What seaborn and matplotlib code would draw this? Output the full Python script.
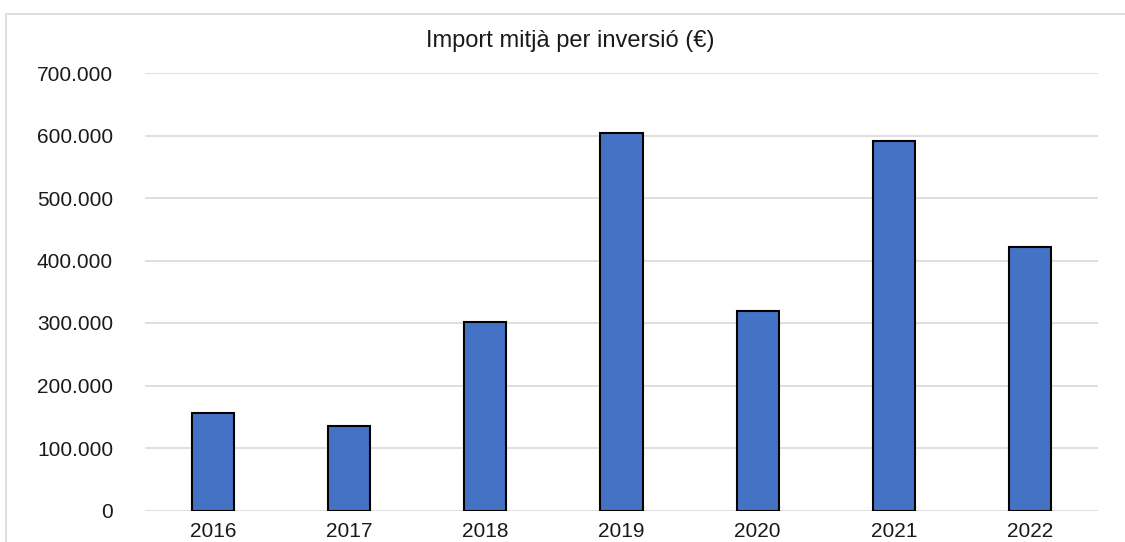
import matplotlib
matplotlib.use("Agg")
import matplotlib.pyplot as plt
import seaborn as sns
import pandas as pd
from matplotlib.patches import Rectangle
from matplotlib.ticker import FuncFormatter

years = ["2016", "2017", "2018", "2019", "2020", "2021", "2022"]
values = [156500, 136000, 301000, 604000, 319500, 590500, 421000]
title = "Import mitjà per inversió (€)"
yticks = [0, 100000, 200000, 300000, 400000, 500000, 600000, 700000]

sns.set_theme(style="white")
plt.rcParams['font.family'] = ['Liberation Sans', 'DejaVu Sans']

df = pd.DataFrame({"year": years, "value": values})

W, H = 1125, 542
fig = plt.figure(figsize=(W / 100, H / 100), dpi=100)
fig.patch.set_facecolor("white")

# chart frame
fig.patches.append(Rectangle((6 / W, -0.1), 1.2, 1 - 14 / H + 0.1,
                             transform=fig.transFigure, fill=False,
                             edgecolor="#d9d9d9", linewidth=1.2, zorder=0))

left, right = 145 / W, 1098 / W
bottom, top = 1 - 510.5 / H, 1 - 73 / H
ax = fig.add_axes([left, bottom, right - left, top - bottom])

sns.barplot(data=df, x="year", y="value", ax=ax, color="#4472C4",
            saturation=1, width=0.31, edgecolor="black", linewidth=1.5,
            zorder=3)

ax.set_ylim(0, 700000)
ax.set_yticks(yticks)
ax.yaxis.set_major_formatter(FuncFormatter(lambda v, p: f"{int(v):,}".replace(",", ".")))
ax.grid(axis="y", color="#d9d9d9", linewidth=1.2, zorder=0)
ax.set_axisbelow(True)
for s in ax.spines.values():
    s.set_visible(False)
ax.set_xlabel("")
ax.set_ylabel("")
ax.tick_params(axis="y", length=0, pad=23, labelsize=15, labelcolor="#1a1a1a")
ax.tick_params(axis="x", length=0, pad=8, labelsize=15, labelcolor="#1a1a1a")

fig.text(570 / W, 1 - 41 / H, title, ha="center", va="center",
         fontsize=17, color="#1a1a1a")

fig.savefig("out.png", dpi=100, facecolor="white")
